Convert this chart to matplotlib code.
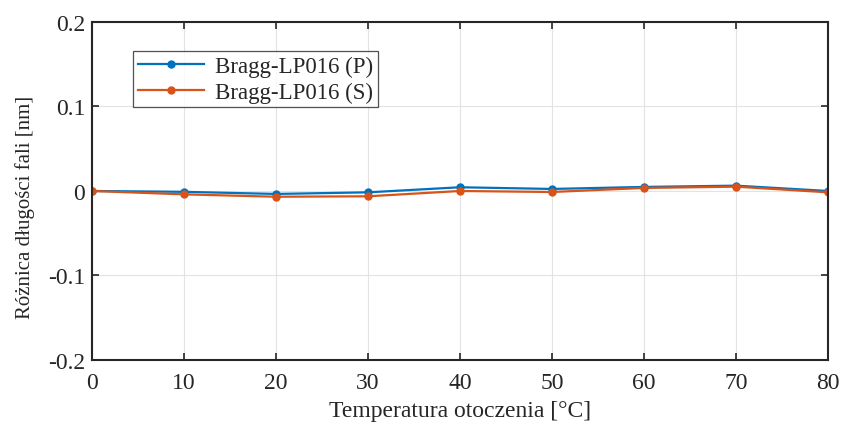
import matplotlib
matplotlib.use("Agg")
import matplotlib.pyplot as plt

temps = [0, 10, 20, 30, 40, 50, 60, 70, 80]
series_p = [0.0, -0.001, -0.0035, -0.0016, 0.0044, 0.0024, 0.0048, 0.0063, 0.0]
series_s = [0.0, -0.004, -0.0068, -0.0063, 0.0, -0.0012, 0.0036, 0.0051, -0.0016]
xticks = [0, 10, 20, 30, 40, 50, 60, 70, 80]
yticks = [-0.2, -0.1, 0, 0.1, 0.2]
yticklabels = ["-0.2", "-0.1", "0", "0.1", "0.2"]

plt.rcParams['font.family'] = ['Liberation Serif', 'DejaVu Serif']

fig = plt.figure(figsize=(8.47, 4.27), dpi=100)
ax = fig.add_axes([0.1086, 0.1546, 0.869, 0.7916])
ax.plot(temps, series_p, color='#0072BD', marker='o', markersize=5, linewidth=1.6, label='Bragg-LP016 (P)')
ax.plot(temps, series_s, color='#D95319', marker='o', markersize=5, linewidth=1.6, label='Bragg-LP016 (S)')
ax.set_xlim(0, 80)
ax.set_ylim(-0.2, 0.2)
ax.set_xticks(xticks)
ax.set_yticks(yticks)
ax.set_yticklabels(yticklabels)
ax.grid(True, color='#e3e3e3', linewidth=0.8)
ax.set_axisbelow(True)
ax.tick_params(direction='in', labelsize=17, length=5, width=1.2, top=True, right=True,
               color='#262626', labelcolor='#262626')
ax.tick_params(axis='x', pad=9)
ax.tick_params(axis='y', pad=5)
for s in ax.spines.values():
    s.set_color('#262626')
    s.set_linewidth(1.5)
ax.set_xlabel('Temperatura otoczenia [°C]', fontsize=17, color='#262626', labelpad=5)
ax.set_ylabel('Różnica długości fali [nm]', fontsize=15, color='#262626')
ax.yaxis.set_label_coords(-0.078, 0.455)
leg = ax.legend(loc='upper left', bbox_to_anchor=(0.0557, 0.914), fontsize=16.5, frameon=True,
                fancybox=False, edgecolor='#262626', borderpad=0.2, handlelength=2.9,
                handletextpad=0.5, labelspacing=0.2, borderaxespad=0)
leg.get_frame().set_linewidth(0.9)
for t in leg.get_texts():
    t.set_color('#262626')
fig.savefig('out.png', dpi=100)
